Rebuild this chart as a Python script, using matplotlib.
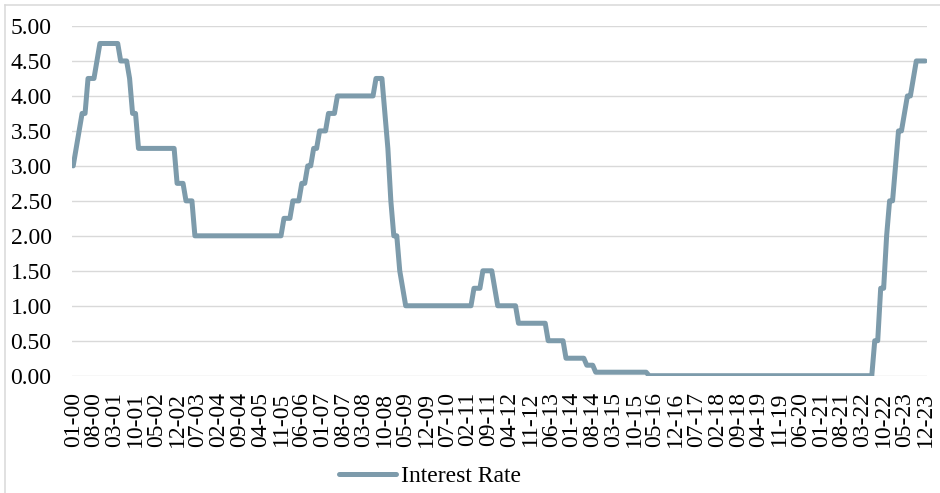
import matplotlib
matplotlib.use("Agg")
import matplotlib.pyplot as plt
from matplotlib.lines import Line2D

plt.rcParams["font.family"] = ["Liberation Serif", "DejaVu Serif"]

# Monthly policy rate (%), January 2000 to December 2023, one list per year
rate_2000 = [3.00, 3.25, 3.50, 3.75, 3.75, 4.25, 4.25, 4.25, 4.50, 4.75, 4.75, 4.75]
rate_2001 = [4.75, 4.75, 4.75, 4.75, 4.50, 4.50, 4.50, 4.25, 3.75, 3.75, 3.25, 3.25]
rate_2002 = [3.25, 3.25, 3.25, 3.25, 3.25, 3.25, 3.25, 3.25, 3.25, 3.25, 3.25, 2.75]
rate_2003 = [2.75, 2.75, 2.50, 2.50, 2.50, 2.00, 2.00, 2.00, 2.00, 2.00, 2.00, 2.00]
rate_2004 = [2.00, 2.00, 2.00, 2.00, 2.00, 2.00, 2.00, 2.00, 2.00, 2.00, 2.00, 2.00]
rate_2005 = [2.00, 2.00, 2.00, 2.00, 2.00, 2.00, 2.00, 2.00, 2.00, 2.00, 2.00, 2.25]
rate_2006 = [2.25, 2.25, 2.50, 2.50, 2.50, 2.75, 2.75, 3.00, 3.00, 3.25, 3.25, 3.50]
rate_2007 = [3.50, 3.50, 3.75, 3.75, 3.75, 4.00, 4.00, 4.00, 4.00, 4.00, 4.00, 4.00]
rate_2008 = [4.00, 4.00, 4.00, 4.00, 4.00, 4.00, 4.25, 4.25, 4.25, 3.75, 3.25, 2.50]
rate_2009 = [2.00, 2.00, 1.50, 1.25, 1.00, 1.00, 1.00, 1.00, 1.00, 1.00, 1.00, 1.00]
rate_2010 = [1.00, 1.00, 1.00, 1.00, 1.00, 1.00, 1.00, 1.00, 1.00, 1.00, 1.00, 1.00]
rate_2011 = [1.00, 1.00, 1.00, 1.25, 1.25, 1.25, 1.50, 1.50, 1.50, 1.50, 1.25, 1.00]
rate_2012 = [1.00, 1.00, 1.00, 1.00, 1.00, 1.00, 0.75, 0.75, 0.75, 0.75, 0.75, 0.75]
rate_2013 = [0.75, 0.75, 0.75, 0.75, 0.50, 0.50, 0.50, 0.50, 0.50, 0.50, 0.25, 0.25]
rate_2014 = [0.25, 0.25, 0.25, 0.25, 0.25, 0.15, 0.15, 0.15, 0.05, 0.05, 0.05, 0.05]
rate_2015 = [0.05, 0.05, 0.05, 0.05, 0.05, 0.05, 0.05, 0.05, 0.05, 0.05, 0.05, 0.05]
rate_2016 = [0.05, 0.05, 0.00, 0.00, 0.00, 0.00, 0.00, 0.00, 0.00, 0.00, 0.00, 0.00]
rate_2017 = [0.00, 0.00, 0.00, 0.00, 0.00, 0.00, 0.00, 0.00, 0.00, 0.00, 0.00, 0.00]
rate_2018 = [0.00, 0.00, 0.00, 0.00, 0.00, 0.00, 0.00, 0.00, 0.00, 0.00, 0.00, 0.00]
rate_2019 = [0.00, 0.00, 0.00, 0.00, 0.00, 0.00, 0.00, 0.00, 0.00, 0.00, 0.00, 0.00]
rate_2020 = [0.00, 0.00, 0.00, 0.00, 0.00, 0.00, 0.00, 0.00, 0.00, 0.00, 0.00, 0.00]
rate_2021 = [0.00, 0.00, 0.00, 0.00, 0.00, 0.00, 0.00, 0.00, 0.00, 0.00, 0.00, 0.00]
rate_2022 = [0.00, 0.00, 0.00, 0.00, 0.00, 0.00, 0.50, 0.50, 1.25, 1.25, 2.00, 2.50]
rate_2023 = [2.50, 3.00, 3.50, 3.50, 3.75, 4.00, 4.00, 4.25, 4.50, 4.50, 4.50, 4.50]

rates = (rate_2000 + rate_2001 + rate_2002 + rate_2003 + rate_2004 + rate_2005
         + rate_2006 + rate_2007 + rate_2008 + rate_2009 + rate_2010 + rate_2011
         + rate_2012 + rate_2013 + rate_2014 + rate_2015 + rate_2016 + rate_2017
         + rate_2018 + rate_2019 + rate_2020 + rate_2021 + rate_2022 + rate_2023)

# Category labels shown on the x axis (every seventh month)
x_labels = ["01-00", "08-00", "03-01", "10-01", "05-02", "12-02", "07-03",
            "02-04", "09-04", "04-05", "11-05", "06-06", "01-07", "08-07",
            "03-08", "10-08", "05-09", "12-09", "07-10", "02-11", "09-11",
            "04-12", "11-12", "06-13", "01-14", "08-14", "03-15", "10-15",
            "05-16", "12-16", "07-17", "02-18", "09-18", "04-19", "11-19",
            "06-20", "01-21", "08-21", "03-22", "10-22", "05-23", "12-23"]
label_step = 7

y_ticks = [0.0, 0.5, 1.0, 1.5, 2.0, 2.5, 3.0, 3.5, 4.0, 4.5, 5.0]
series_name = "Interest Rate"

W, H = 940, 493
fig = plt.figure(figsize=(W / 100, H / 100), dpi=100)

# chart-area frame: only its top and left edges fall inside the canvas
frame_kw = dict(transform=fig.transFigure, color="#D9D9D9", linewidth=1.1)
fig.lines.append(Line2D([5 / W, 1.0], [1 - 4.7 / H, 1 - 4.7 / H], **frame_kw))
fig.lines.append(Line2D([5 / W, 5 / W], [0.0, 1 - 4.7 / H], **frame_kw))

left, right = 71.7, 926.7
top, bottom = 26.0, 375.7
ax = fig.add_axes([left / W, 1 - bottom / H, (right - left) / W, (bottom - top) / H])

x = list(range(len(rates)))
line_color = "#7D9BAB"
ax.plot(x, rates, color=line_color, linewidth=3.6, solid_joinstyle="round",
        solid_capstyle="round", label=series_name, zorder=3)

ax.set_xlim(-0.5, len(rates) - 0.5)
ax.set_ylim(0, 5)
ax.set_yticks(y_ticks)
ax.set_yticklabels([f"{v:.2f}" for v in y_ticks])
ax.set_xticks(x[::label_step])
ax.set_xticklabels(x_labels, rotation=90)

ax.grid(axis="y", color="#D9D9D9", linewidth=1.0)
ax.set_axisbelow(True)
for s in ax.spines.values():
    s.set_visible(False)
ax.tick_params(axis="y", length=0, pad=14.5, labelsize=17, labelcolor="#000000")
ax.tick_params(axis="x", length=0, pad=11.5, labelsize=17, labelcolor="#000000")

fig.legend(loc="center", bbox_to_anchor=(430 / W, 1 - 476 / H), frameon=False,
           fontsize=17, handlelength=2.4, handletextpad=0.2)

fig.savefig("out.png", dpi=100)
